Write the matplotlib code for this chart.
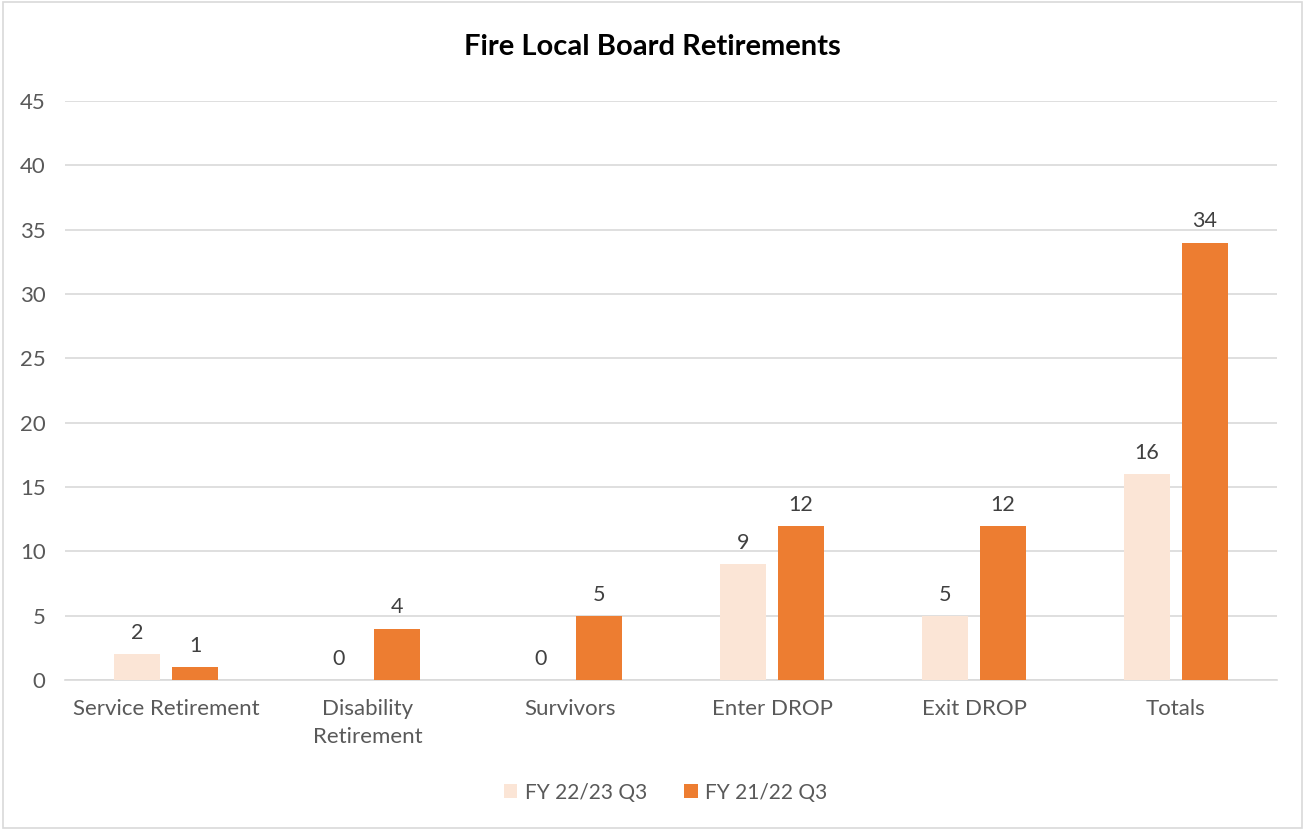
import numpy as np
import matplotlib.pyplot as plt
from matplotlib.patches import Rectangle

categories = ["Service Retirement", "Disability\nRetirement", "Survivors",
              "Enter DROP", "Exit DROP", "Totals"]
fy2223 = [2, 0, 0, 9, 5, 16]
fy2122 = [1, 4, 5, 12, 12, 34]
series_names = ["FY 22/23 Q3", "FY 21/22 Q3"]
yticks = [0, 5, 10, 15, 20, 25, 30, 35, 40, 45]

plt.rcParams['font.family'] = ['Lato', 'DejaVu Sans']
txt = '#595959'

fig = plt.figure(figsize=(13.05, 8.3), dpi=100)
ax = fig.add_axes([0.0498, 0.1807, 0.9287, 0.6976])

x = np.arange(len(categories))
w = 0.228
off = 0.1436
b1 = ax.bar(x - off, fy2223, w, color='#FBE5D6', label=series_names[0], zorder=3)
b2 = ax.bar(x + off, fy2122, w, color='#ED7D31', label=series_names[1], zorder=3)
for bars in (b1, b2):
    ax.bar_label(bars, padding=8, fontsize=15.5, color='#404040')

ax.set_xlim(-0.5, len(categories) - 0.5)
ax.set_ylim(0, 45)
ax.set_yticks(yticks)
ax.set_xticks(x)
ax.set_xticklabels(categories, linespacing=1.45)
ax.tick_params(axis='both', length=0, labelsize=16, labelcolor=txt)
ax.tick_params(axis='x', pad=14)
ax.tick_params(axis='y', pad=14)
ax.grid(axis='y', color='#D9D9D9', linewidth=1.2, zorder=0)
for s in ['top', 'right', 'left']:
    ax.spines[s].set_visible(False)
ax.spines['bottom'].set_color('#D9D9D9')
ax.spines['bottom'].set_linewidth(1.2)

fig.text(0.5, 0.943, "Fire Local Board Retirements", ha='center', va='center',
         fontsize=21, fontweight='bold', color='black')

fig.legend(loc='center', bbox_to_anchor=(0.51, 0.045), ncol=2, frameon=False,
           fontsize=15, labelcolor=txt, handlelength=0.65, handleheight=0.65,
           columnspacing=1.8, handletextpad=0.35)

fig.patches.append(Rectangle((0.002, 0.002), 0.996, 0.996, transform=fig.transFigure,
                             fill=False, edgecolor='#D9D9D9', linewidth=1.2))

fig.savefig('out.png', dpi=100)
